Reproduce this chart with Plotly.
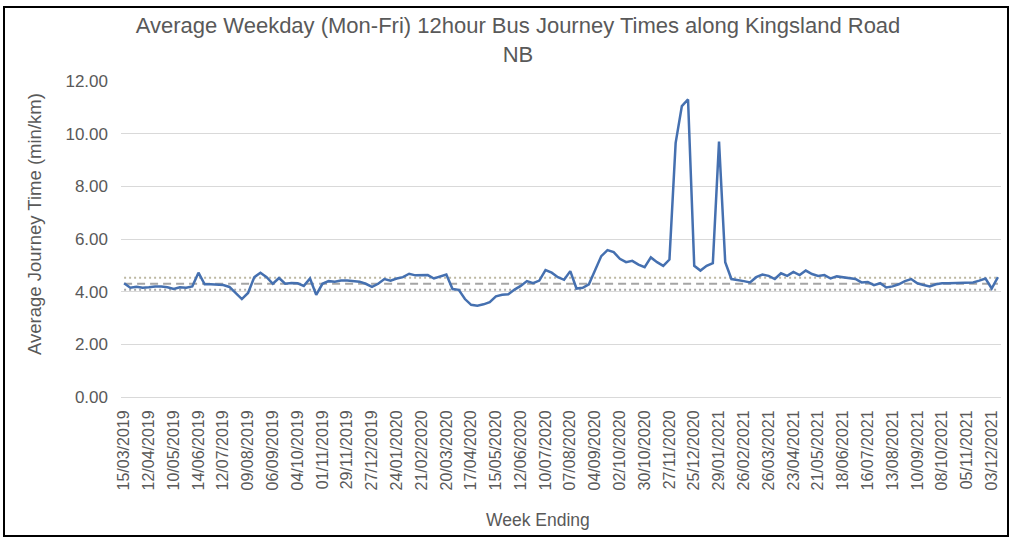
import pandas as pd
import plotly.graph_objects as go

# Week-ending dates (Fridays); two weeks have no survey data
weeks = pd.date_range("2019-03-15", "2021-12-10", freq="7D")
skipped_weeks = pd.to_datetime(["2019-05-31", "2021-01-01"])
week_labels = [d.strftime("%d/%m/%Y") for d in weeks if d not in skipped_weeks]

# Average weekday 12-hour journey time, min/km
journey_time = [
    4.32, 4.15, 4.19, 4.15, 4.17, 4.20, 4.20, 4.17, 4.10, 4.17,
    4.15, 4.20, 4.72, 4.28, 4.28, 4.27, 4.25, 4.18, 3.95, 3.72,
    3.95, 4.55, 4.72, 4.55, 4.30, 4.52, 4.30, 4.33, 4.32, 4.22,
    4.50, 3.88, 4.30, 4.40, 4.38, 4.42, 4.42, 4.40, 4.38, 4.30,
    4.18, 4.30, 4.48, 4.42, 4.50, 4.55, 4.68, 4.62, 4.62, 4.63,
    4.50, 4.58, 4.65, 4.10, 4.07, 3.72, 3.50, 3.47, 3.52, 3.60,
    3.82, 3.88, 3.90, 4.08, 4.22, 4.40, 4.32, 4.42, 4.82, 4.72,
    4.55, 4.45, 4.78, 4.12, 4.15, 4.28, 4.85, 5.35, 5.58, 5.50,
    5.25, 5.12, 5.17, 5.03, 4.93, 5.30, 5.12, 4.98, 5.22, 9.65,
    11.05, 11.30, 4.98, 4.80, 4.98, 5.08, 9.70, 5.12, 4.48, 4.45,
    4.40, 4.35, 4.55, 4.65, 4.60, 4.48, 4.70, 4.60, 4.75, 4.63,
    4.80, 4.67, 4.60, 4.63, 4.50, 4.58, 4.55, 4.52, 4.48, 4.35,
    4.37, 4.25, 4.32, 4.16, 4.20, 4.28, 4.40, 4.48, 4.32, 4.25,
    4.20, 4.28, 4.32, 4.32, 4.33, 4.33, 4.33, 4.35, 4.42, 4.50,
    4.12, 4.55,
]

# Baseline average and its band
average_level = 4.30
upper_band = 4.53
lower_band = 4.07

y_ticks = [0, 2, 4, 6, 8, 10, 12]

W, H = 1010, 538
ML, MR, MT, MB = 121, 9, 81, 141
PW, PH = W - ML - MR, H - MT - MB

TEXT = "#595959"
FONT = "Liberation Sans, Arial, sans-serif"


def px_x(px):
    return (px - ML) / PW


def px_y(py):
    return (H - MB - py) / PH


fig = go.Figure()

n = len(week_labels)
fig.add_trace(go.Scatter(
    x=week_labels, y=[upper_band] * n, mode="lines",
    line=dict(color="#bcb8a2", width=2, dash="2px,3px"), hoverinfo="skip",
))
fig.add_trace(go.Scatter(
    x=week_labels, y=[lower_band] * n, mode="lines",
    line=dict(color="#a8a8a8", width=2, dash="2px,3px"), hoverinfo="skip",
))
fig.add_trace(go.Scatter(
    x=week_labels, y=[average_level] * n, mode="lines",
    line=dict(color="#a5a5a5", width=2, dash="8px,5px"), hoverinfo="skip",
))
fig.add_trace(go.Scatter(
    x=week_labels, y=journey_time, mode="lines",
    line=dict(color="#4570b0", width=2.5),
    name="Journey time",
))

fig.update_layout(
    width=W, height=H,
    margin=dict(l=ML, r=MR, t=MT, b=MB, autoexpand=False),
    paper_bgcolor="white", plot_bgcolor="white",
    showlegend=False,
    font=dict(family=FONT, color=TEXT, size=16),
    title=dict(
        text="Average Weekday (Mon-Fri) 12hour Bus Journey Times along Kingsland Road<br>NB",
        x=518 / W, xanchor="center", xref="container",
        y=1 - 33 / H, yanchor="top", yref="container",
        font=dict(size=22, color=TEXT, family=FONT),
    ),
    xaxis=dict(
        type="category",
        range=[-0.5, n - 0.5],
        tickmode="array", tickvals=week_labels[::4], ticktext=week_labels[::4],
        tickangle=-90, tickfont=dict(size=16, color=TEXT),
        showgrid=False, showline=True, linecolor="#d9d9d9", linewidth=1,
        ticks="", ticklabelstandoff=6,
        automargin=False,
    ),
    yaxis=dict(
        range=[0, 12],
        tickmode="array", tickvals=y_ticks, ticktext=[f"{v:.2f}" for v in y_ticks],
        tickfont=dict(size=17, color=TEXT),
        showgrid=True, gridcolor="#d9d9d9", gridwidth=1,
        zeroline=False, showline=False, ticks="", ticklabelstandoff=12,
        automargin=False,
    ),
    annotations=[
        dict(
            text="Week Ending", xref="paper", yref="paper",
            x=px_x(538), y=px_y(520), xanchor="center", yanchor="middle",
            showarrow=False, font=dict(size=17.5, color=TEXT, family=FONT),
        ),
        dict(
            text="Average Journey Time (min/km)", xref="paper", yref="paper",
            x=px_x(34), y=px_y(224), xanchor="center", yanchor="middle",
            textangle=-90, showarrow=False, font=dict(size=18.5, color=TEXT, family=FONT),
        ),
    ],
    shapes=[dict(
        type="rect", xref="paper", yref="paper",
        x0=px_x(4), x1=px_x(1008), y0=px_y(536), y1=px_y(7),
        line=dict(color="black", width=2), fillcolor="rgba(0,0,0,0)", layer="above",
    )],
)

fig.write_html("out.html")
